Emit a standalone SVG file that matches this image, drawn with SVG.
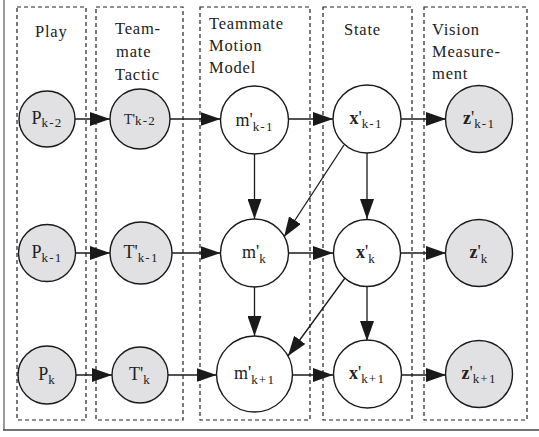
<svg xmlns="http://www.w3.org/2000/svg" width="539" height="437" viewBox="0 0 539 437">
<style>
.col{fill:none;stroke:#222;stroke-width:1.2;stroke-dasharray:4 3}
.hd{font-family:"Liberation Serif",serif;font-size:16.5px;letter-spacing:0.8px;fill:#222}
.nd{stroke:#1a1a1a;stroke-width:1.4}
.g{fill:#e1e1e3}
.w{fill:#fff}
.lbl{font-family:"Liberation Serif",serif;font-size:18px;fill:#222;text-anchor:middle}
.sub{font-size:13px;letter-spacing:1.2px}
.b{font-weight:bold}
.e{fill:none;stroke:#1a1a1a;stroke-width:1.3}
</style>
<defs>
<marker id="ah" markerUnits="userSpaceOnUse" markerWidth="20" markerHeight="14" viewBox="0 0 20 14" refX="20" refY="7" orient="auto">
<path d="M0,0 L20,7 L0,14 z" fill="#1a1a1a"/>
</marker>
</defs>
<rect width="539" height="437" fill="#fff"/>
<line x1="4" y1="0" x2="4" y2="430" stroke="#999" stroke-width="2"/>
<line x1="3" y1="430" x2="539" y2="430" stroke="#444" stroke-width="1.5"/>

<g id="columns">
<rect class="col" x="17" y="7" width="69" height="413"/>
<rect class="col" x="96" y="7" width="87" height="413"/>
<rect class="col" x="200" y="7" width="110" height="413"/>
<rect class="col" x="323" y="7" width="89" height="413"/>
<rect class="col" x="424" y="7" width="103" height="413"/>
</g>
<g id="headers">
<text class="hd" x="35" y="37">Play</text>
<text class="hd" x="115" y="34">Team-</text>
<text class="hd" x="116" y="57">mate</text>
<text class="hd" x="115" y="80">Tactic</text>
<text class="hd" x="209" y="29">Teammate</text>
<text class="hd" x="209" y="51">Motion</text>
<text class="hd" x="209" y="73">Model</text>
<text class="hd" x="344" y="35">State</text>
<text class="hd" x="432" y="35">Vision</text>
<text class="hd" x="432" y="57">Measure-</text>
<text class="hd" x="432" y="79">ment</text>
</g>

<g id="connectors">
<path class="e" marker-end="url(#ah)" d="M75,119 L110,119"/>
<path class="e" marker-end="url(#ah)" d="M170,119 L220.5,119"/>
<path class="e" marker-end="url(#ah)" d="M288.5,119 L333,119"/>
<path class="e" marker-end="url(#ah)" d="M401,119 L446,119"/>
<path class="e" marker-end="url(#ah)" d="M75,253 L110,253"/>
<path class="e" marker-end="url(#ah)" d="M170,253 L220.5,253"/>
<path class="e" marker-end="url(#ah)" d="M288.5,253 L333,253"/>
<path class="e" marker-end="url(#ah)" d="M401,253 L446,253"/>
<path class="e" marker-end="url(#ah)" d="M75,375 L112,375"/>
<path class="e" marker-end="url(#ah)" d="M168,375 L216.5,375"/>
<path class="e" marker-end="url(#ah)" d="M292.5,375 L333,375"/>
<path class="e" marker-end="url(#ah)" d="M401,375 L446,375"/>
<path class="e" marker-end="url(#ah)" d="M254.5,153 L254.5,219"/>
<path class="e" marker-end="url(#ah)" d="M254.5,287 L254.5,336"/>
<path class="e" marker-end="url(#ah)" d="M367,153 L367,219"/>
<path class="e" marker-end="url(#ah)" d="M367,287 L367,341"/>
<path class="e" marker-end="url(#ah)" d="M344,145 L284,237"/>
<path class="e" marker-end="url(#ah)" d="M345,278 L288,356"/>
</g>

<g id="P_k-2"><circle class="nd g" cx="47" cy="119" r="28"/><text class="lbl" x="47" y="124">P<tspan class="sub" dy="3">k-2</tspan></text></g>
<g id="P_k-1"><circle class="nd g" cx="47" cy="253" r="28.5"/><text class="lbl" x="47" y="258">P<tspan class="sub" dy="4">k-1</tspan></text></g>
<g id="P_k"><circle class="nd g" cx="47" cy="375" r="29"/><text class="lbl" x="47" y="380">P<tspan class="sub" dy="4">k</tspan></text></g>

<g id="T_k-2"><circle class="nd g" cx="140" cy="119" r="30"/><text class="lbl" x="140" y="124" style="font-size:14px">T'<tspan class="sub" dy="1">k-2</tspan></text></g>
<g id="T_k-1"><circle class="nd g" cx="141" cy="253" r="31"/><text class="lbl" x="141" y="258">T'<tspan class="sub" dy="4">k-1</tspan></text></g>
<g id="T_k"><circle class="nd g" cx="140" cy="375" r="28"/><text class="lbl" x="140" y="380">T'<tspan class="sub" dy="4">k</tspan></text></g>

<g id="m_k-1"><circle class="nd w" cx="254.5" cy="120" r="34"/><text class="lbl" x="254.5" y="126">m'<tspan class="sub" dy="5">k-1</tspan></text></g>
<g id="m_k"><circle class="nd w" cx="254.5" cy="253" r="34"/><text class="lbl" x="254.5" y="258">m'<tspan class="sub" dy="5">k</tspan></text></g>
<g id="m_k+1"><circle class="nd w" cx="254.5" cy="374" r="38"/><text class="lbl" x="254.5" y="379">m'<tspan class="sub" dy="5">k+1</tspan></text></g>

<g id="x_k-1"><circle class="nd w" cx="367" cy="119" r="34"/><text class="lbl" x="366" y="124"><tspan class="b">x</tspan>'<tspan class="sub" dy="4">k-1</tspan></text></g>
<g id="x_k"><circle class="nd w" cx="367" cy="253" r="33.5"/><text class="lbl" x="366" y="258"><tspan class="b">x</tspan>'<tspan class="sub" dy="5">k</tspan></text></g>
<g id="x_k+1"><circle class="nd w" cx="367.5" cy="374" r="34"/><text class="lbl" x="367" y="379"><tspan class="b">x</tspan>'<tspan class="sub" dy="4">k+1</tspan></text></g>

<g id="z_k-1"><circle class="nd g" cx="479" cy="119" r="33.5"/><text class="lbl" x="479" y="124"><tspan class="b">z</tspan>'<tspan class="sub" dy="4">k-1</tspan></text></g>
<g id="z_k"><circle class="nd g" cx="479" cy="253" r="33.5"/><text class="lbl" x="479" y="258"><tspan class="b">z</tspan>'<tspan class="sub" dy="5">k</tspan></text></g>
<g id="z_k+1"><circle class="nd g" cx="479" cy="374" r="33.5"/><text class="lbl" x="479" y="379"><tspan class="b">z</tspan>'<tspan class="sub" dy="4">k+1</tspan></text></g>
</svg>
